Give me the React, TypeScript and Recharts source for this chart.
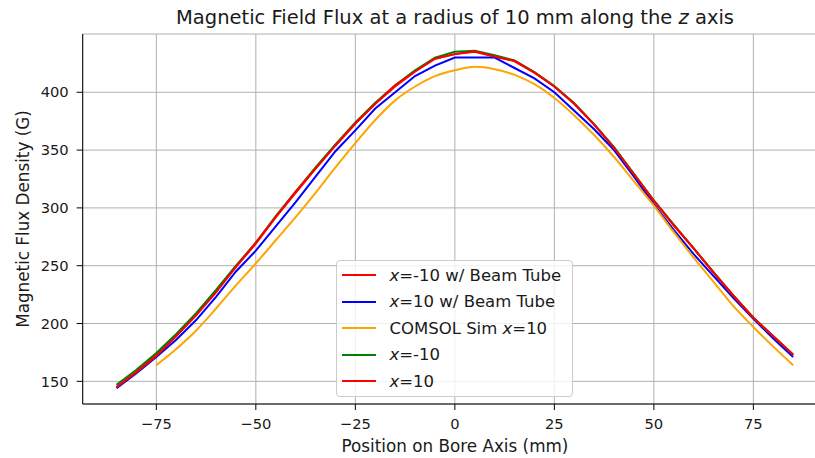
import React from 'react';
import { LineChart, Line, XAxis, YAxis, CartesianGrid } from 'recharts';

const positions = [-85, -80, -75, -70, -65, -60, -55, -50, -45, -40, -35, -30, -25, -20, -15, -10, -5, 0, 5, 10, 15, 20, 25, 30, 35, 40, 45, 50, 55, 60, 65, 70, 75, 80, 85];

const redBeamTube = [145, 158, 173, 190, 208, 228, 249, 269, 292, 313, 334, 354, 373, 390, 405, 418, 429, 433, 435, 431, 427, 417, 405, 390, 372, 352, 329, 306, 285, 265, 244, 224, 205, 189, 173];
const blueBeamTube = [144, 157, 171, 186, 203, 223, 245, 263, 284, 305, 327, 349, 367, 386, 400, 414, 423, 430, 430, 430, 421, 412, 400, 384, 368, 350, 327, 303, 281, 260, 241, 222, 204, 187, 171];
const greenNoTube = [147, 160, 174.5, 191, 209, 229, 250, 270, 293, 314, 335, 355, 374, 391, 406, 419, 430, 435, 436, 432, 427.5, 417.5, 405.5, 390.5, 372.5, 352.5, 329.5, 306.5, 285.5, 265, 244.5, 224, 205, 189, 173];
const redNoTube = [145, 158, 172, 189, 207, 227, 249, 270, 292, 314, 334, 354, 373, 390, 406, 418, 429, 433, 435.5, 431, 427, 417, 405, 390, 372, 352, 329, 306, 285, 265, 244, 224, 205, 189, 173];

const comsolPositions = [-75, -70, -65, -60, -55, -50, -45, -40, -35, -30, -25, -20, -15, -10, -5, 0, 5, 10, 15, 20, 25, 30, 35, 40, 45, 50, 55, 60, 65, 70, 75, 80, 85];
const comsolValues = [164, 178, 194, 213, 233, 252, 272, 292, 313, 335, 356, 376, 393, 405, 414, 419, 422, 420, 415, 407, 395, 380, 363, 344, 323, 302, 279, 257, 236, 215, 197, 180, 164];

const xTicks = [-75, -50, -25, 0, 25, 50, 75];
const yTicks = [150, 200, 250, 300, 350, 400];

const seriesNames = ['x=-10 w/ Beam Tube', 'x=10 w/ Beam Tube', 'COMSOL Sim x=10', 'x=-10', 'x=10'];
const seriesColors = ['#ff0000', '#0000ff', '#ffa500', '#008000', '#ff0000'];

const toPoints = (xs: number[], ys: number[]) => xs.map((x, i) => ({ x, y: ys[i] }));

const seriesData = [
  toPoints(positions, redBeamTube),
  toPoints(positions, blueBeamTube),
  toPoints(comsolPositions, comsolValues),
  toPoints(positions, greenNoTube),
  toPoints(positions, redNoTube),
];
const seriesCurve: ('linear' | 'monotone')[] = ['linear', 'linear', 'monotone', 'linear', 'linear'];

const FONT = '"DejaVu Sans", sans-serif';
const TEXT = '#1a1a1a';

const fmt = (v: number) => (v < 0 ? '\u2212' + Math.abs(v) : String(v));

function renderName(name: string) {
  const parts = name.split(/(x=)/);
  return parts.map((p, i) =>
    p === 'x=' ? (
      <span key={i}>
        <i>x</i>=
      </span>
    ) : (
      <span key={i}>{p}</span>
    )
  );
}

export default function App() {
  return (
    <div
      style={{
        position: 'fixed',
        left: 0,
        top: 0,
        width: 815,
        height: 458,
        overflow: 'hidden',
        background: '#fff',
        fontFamily: FONT,
      }}
    >
      <LineChart width={832} height={458} margin={{ top: 34, right: 5, bottom: 0, left: 0 }}>
        <CartesianGrid stroke="#b0b0b0" strokeWidth={1} />
        <XAxis
          dataKey="x"
          type="number"
          domain={[-93.5, 93.5]}
          ticks={xTicks}
          tickFormatter={fmt}
          allowDataOverflow
          height={54}
          tickSize={6}
          tickMargin={9}
          stroke="#000"
          tick={{ fill: TEXT, fontSize: 14.7, fontFamily: FONT }}
          tickLine={{ stroke: '#000' }}
          axisLine={{ stroke: '#000' }}
        />
        <XAxis
          xAxisId="top"
          orientation="top"
          type="number"
          domain={[-93.5, 93.5]}
          height={0}
          tick={false}
          tickLine={false}
          axisLine={{ stroke: '#000' }}
        />
        <YAxis
          type="number"
          domain={[130.4, 450.4]}
          ticks={yTicks}
          allowDataOverflow
          width={82.7}
          tickSize={6}
          tickMargin={8}
          tick={{ fill: TEXT, fontSize: 14.7, fontFamily: FONT }}
          tickLine={{ stroke: '#000' }}
          axisLine={{ stroke: '#000' }}
        />
        {seriesData.map((d, i) => (
          <Line
            key={i}
            data={d}
            dataKey="y"
            name={seriesNames[i]}
            type={seriesCurve[i]}
            stroke={seriesColors[i]}
            strokeWidth={2}
            dot={false}
            activeDot={false}
            isAnimationActive={false}
          />
        ))}
      </LineChart>

      <svg
        width={815}
        height={458}
        style={{ position: 'absolute', left: 0, top: 0, pointerEvents: 'none' }}
      >
        <text x={455} y={24} textAnchor="middle" fontSize={19.5} fontFamily={FONT} fill={TEXT}>
          Magnetic Field Flux at a radius of 10 mm along the <tspan fontStyle="italic">z</tspan> axis
        </text>
        <text x={455} y={452} textAnchor="middle" fontSize={16.8} fontFamily={FONT} fill={TEXT}>
          Position on Bore Axis (mm)
        </text>
        <text
          x={0}
          y={0}
          transform="translate(28.5,219) rotate(-90)"
          textAnchor="middle"
          fontSize={16.8}
          fontFamily={FONT}
          fill={TEXT}
        >
          Magnetic Flux Density (G)
        </text>
      </svg>

      <div
        style={{
          position: 'absolute',
          left: 336,
          top: 260,
          width: 237,
          height: 137,
          border: '1px solid #cccccc',
          borderRadius: 4,
          background: 'rgba(255,255,255,0.8)',
          boxSizing: 'border-box',
        }}
      >
        {seriesNames.map((n, i) => (
          <div
            key={i}
            style={{
              position: 'absolute',
              left: 0,
              top: 1 + i * 26.5,
              height: 26.5,
              display: 'flex',
              alignItems: 'center',
              fontSize: 16.5,
              color: TEXT,
              whiteSpace: 'nowrap',
            }}
          >
            <div style={{ marginLeft: 5, width: 34, height: 2, background: seriesColors[i] }} />
            <div style={{ marginLeft: 13.5 }}>{renderName(n)}</div>
          </div>
        ))}
      </div>
    </div>
  );
}
